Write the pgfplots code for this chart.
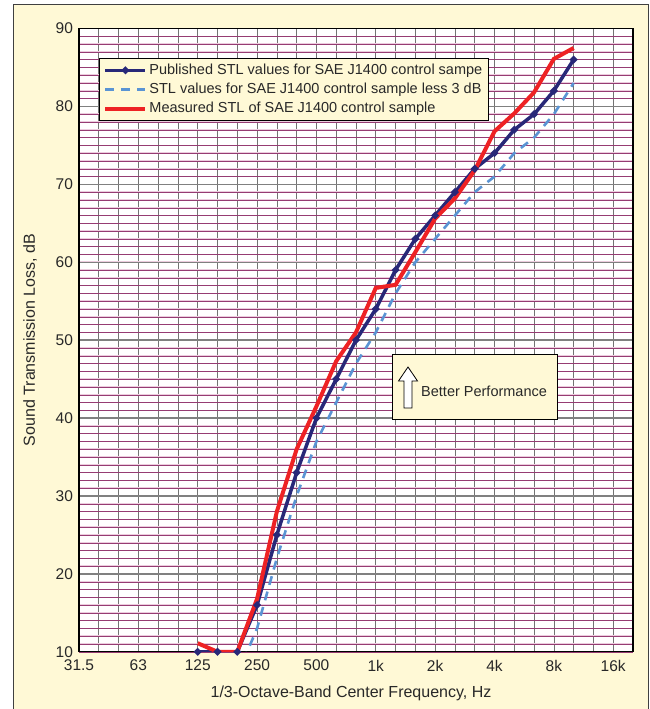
\documentclass[border=0pt]{standalone}
\usepackage{fontspec}
\setmainfont{Liberation Sans}
\usepackage{pgfplots}
\usepackage{pgfplotstable}
\pgfplotsset{compat=1.18}

\definecolor{cream}{RGB}{255,249,214}
\definecolor{navy}{RGB}{40,40,120}
\definecolor{lblue}{RGB}{90,148,212}
\definecolor{sred}{RGB}{238,34,36}
\definecolor{gridpurple}{RGB}{150,60,115}
\definecolor{gridpink}{RGB}{236,204,222}
\definecolor{txt}{RGB}{40,40,40}

% band index: 0=31.5 Hz, 3=63, 6=125, 9=250, 12=500, 15=1k, 18=2k, 21=4k, 24=8k, 27=16k, 28=20k
\pgfplotstableread{
x y
6 10
7 10
8 10
9 16
10 25
11 33
12 40
13 45
14 50
15 54
16 59
17 63
18 66
19 69
20 72
21 74
22 77
23 79
24 82
25 86
}\published

\pgfplotstableread{
x y
8 7
9 13
10 22
11 30
12 37
13 42
14 47
15 51
16 56
17 60
18 63
19 66
20 69
21 71
22 74
23 76
24 79
25 83
}\lessthree

\pgfplotstableread{
x y
6 11.1
7 10
8 10
9 16.8
10 28
11 36
12 41.5
13 47.3
14 51
15 56.7
16 57.1
17 61.3
18 65.6
19 68.2
20 71.8
21 76.8
22 79.1
23 81.8
24 86.1
25 87.5
}\measured

\begin{document}
\fontsize{14.5bp}{17bp}\selectfont
\begin{tikzpicture}[font=\fontsize{14.5bp}{17bp}\selectfont, text=txt]
\useasboundingbox (0,0) rectangle (650bp,709bp);
\fill[cream] (13bp,-2bp) rectangle (648bp,704bp);
\draw[black!75, line width=1bp] (13bp,-2bp) -- (13bp,704bp) -- (648bp,704bp) -- (648bp,-2bp);
\begin{axis}[
  at={(79bp,57.2bp)}, anchor=south west,
  width=554bp, height=623.3bp, scale only axis,
  xmin=0, xmax=28, ymin=10, ymax=90,
  xtick={0,3,...,27},
  xticklabels={31.5,63,125,250,500,1k,2k,4k,8k,16k},
  minor xtick={0,...,28},
  ytick={10,20,...,90},
  minor ytick={10,...,90},
  grid=both,
  major x grid style={draw=black!55, line width=0.7bp},
  minor x grid style={draw=black!55, line width=0.7bp},
  major y grid style={draw=black!50, line width=1.4bp},
  minor y grid style={draw=gridpurple, line width=0.35bp,
     preaction={draw=gridpink, line width=1.5bp}},
  major tick length=0bp, minor tick length=0bp,
  axis line style={line width=1.2bp, black},
  axis background/.style={fill=white},
  clip=true,
  /pgf/number format/assume math mode=true,
  tick label style={font=\fontsize{15.5bp}{18bp}\selectfont, text=txt},
  xticklabel style={yshift=-3bp},
  yticklabel style={xshift=-1bp},
  xlabel={1/3-Octave-Band Center Frequency, Hz},
  ylabel={Sound Transmission Loss, dB},
  label style={font=\fontsize{16bp}{18bp}\selectfont},
  x label style={at={(axis description cs:0.491,-0.0661)}, anchor=center},
  y label style={at={(axis description cs:-0.0884,0.5)}, anchor=center},
  legend style={at={(axis description cs:0.036,0.9527)}, anchor=north west,
     fill=cream, draw=black, line width=1bp, inner xsep=4bp, inner ysep=3.5bp,
     font=\fontsize{14.5bp}{17bp}\selectfont, row sep=2.5bp},
  legend cell align=left,
  legend image code/.code={\draw[mark repeat=2,mark phase=2,#1] plot coordinates {(0bp,0bp) (20bp,0bp) (40bp,0bp)};},
]
\addplot[navy, line width=3.5bp, mark=*, mark size=1.6bp, mark options={solid}] table[x=x,y=y] {\published};
\addlegendentry{Published STL values for SAE J1400 control sampe}
\addplot[lblue, line width=2.6bp, dash pattern=on 9bp off 7bp] table[x=x,y=y] {\lessthree};
\addlegendentry{STL values for SAE J1400 control sample less 3 dB}
\addplot[sred, line width=4bp] table[x=x,y=y] {\measured};
\addlegendentry{Measured STL of SAE J1400 control sample}
\end{axis}
\draw[fill=cream, line width=1bp] (392bp,289bp) rectangle (557bp,354bp);
\draw[fill=white, line width=0.8bp] (404bp,301bp) -- (412bp,301bp) -- (412bp,328bp) -- (417.5bp,328bp) -- (408bp,342bp) -- (398.5bp,328bp) -- (404bp,328bp) -- cycle;
\node[anchor=west, inner sep=0pt] at (421bp,318bp) {Better Performance};
\end{tikzpicture}
\end{document}
